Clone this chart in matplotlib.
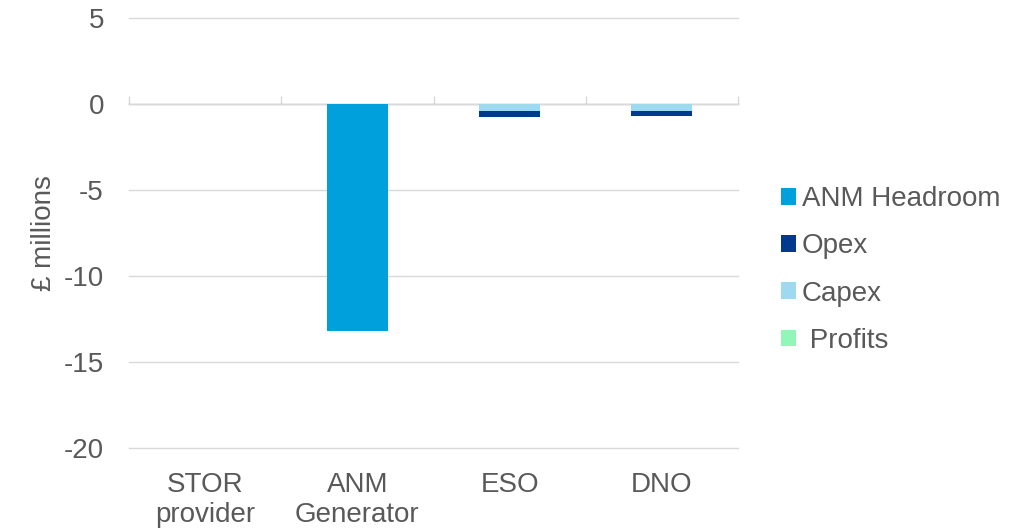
import matplotlib
matplotlib.use("Agg")
import matplotlib.pyplot as plt
import numpy as np

# Categories and stacked series (£ millions)
categories = ["STOR\nprovider", "ANM\nGenerator", "ESO", "DNO"]
anm_headroom = [0.0, -13.2, 0.0, 0.0]
capex = [0.0, 0.0, -0.38, -0.38]
opex = [0.0, 0.0, -0.35, -0.32]
profits = [0.0, 0.0, 0.0, 0.0]
y_ticks = [5, 0, -5, -10, -15, -20]

c_headroom = "#00A0DC"
c_opex = "#003A8C"
c_capex = "#9DD9EF"
c_profits = "#90F7B9"
grid_c = "#D9D9D9"
text_c = "#595959"
fs = 20

plt.rcParams["font.family"] = ["Liberation Sans", "DejaVu Sans"]
plt.rcParams["font.size"] = fs

fig = plt.figure(figsize=(10.25, 5.29), dpi=100)
W, H = 1025, 529
left, right, top, bottom = 129, 738, 18, 448
ax = fig.add_axes([left / W, 1 - bottom / H, (right - left) / W, (bottom - top) / H])

x = np.arange(len(categories))
width = 0.4

capex_arr = np.array(capex)
h1 = ax.bar(x, anm_headroom, width, color=c_headroom, label="ANM Headroom", zorder=3)
h3 = ax.bar(x, capex, width, color=c_capex, label="Capex", zorder=3)
h2 = ax.bar(x, opex, width, bottom=capex_arr, color=c_opex, label="Opex", zorder=3)
h4 = ax.bar(x, profits, width, color=c_profits, label=" Profits", zorder=3)

ax.set_xlim(-0.5, len(categories) - 0.5)
ax.set_ylim(min(y_ticks), max(y_ticks))
ax.set_yticks(y_ticks)
ax.set_yticklabels([str(v) for v in y_ticks])
ax.yaxis.grid(True, color=grid_c, linewidth=1.0, zorder=0)
ax.set_axisbelow(True)
for gl in ax.get_ygridlines():
    gl.set_clip_on(False)

for s in ax.spines.values():
    s.set_visible(False)

ax.tick_params(axis="y", length=0, pad=18, colors=text_c, labelsize=fs)
ax.set_xticks(x)
ax.set_xticklabels(categories, linespacing=1.22)
ax.tick_params(axis="x", length=0, pad=17, colors=text_c, labelsize=fs)

# Category axis crossing at zero with boundary tick marks
zero_frac = (0 - min(y_ticks)) / (max(y_ticks) - min(y_ticks))
sec = ax.secondary_xaxis(zero_frac)
sec.set_xticks(np.arange(-0.5, len(categories), 1.0))
sec.set_xticklabels([])
sec.tick_params(axis="x", direction="out", length=6, width=1.0, color=grid_c)
sec.spines["bottom"].set_color(grid_c)
sec.spines["bottom"].set_linewidth(1.0)
for t in sec.xaxis.get_major_ticks():
    t.tick1line.set_clip_on(False)

ax.set_ylabel("£ millions", color=text_c, fontsize=fs, labelpad=5)

fig.legend([h1, h2, h3, h4], ["ANM Headroom", "Opex", "Capex", " Profits"],
           loc="center left", bbox_to_anchor=(781 / W, 1 - 270 / H),
           frameon=False, borderpad=0, borderaxespad=0,
           handlelength=0.54, handleheight=0.54, handletextpad=0.22,
           labelspacing=0.76, fontsize=fs, labelcolor=text_c)

fig.savefig("out.png", dpi=100, facecolor="white")
